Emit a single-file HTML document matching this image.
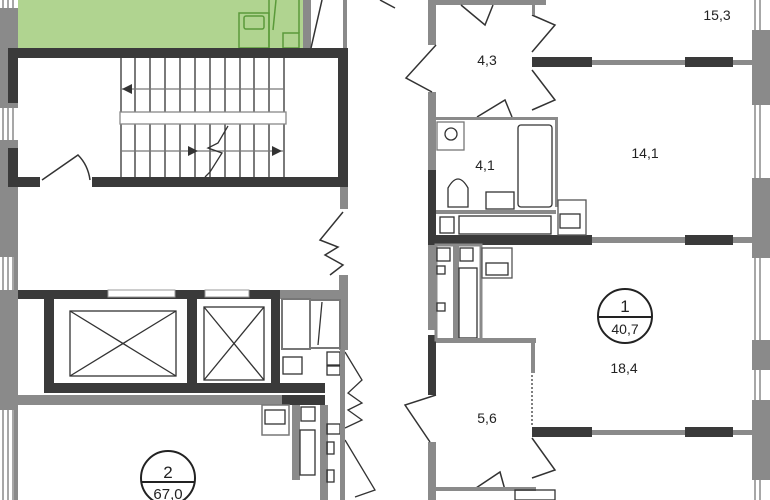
<!DOCTYPE html>
<html><head><meta charset="utf-8"><style>
html,body{margin:0;padding:0;background:#fff;width:770px;height:500px;overflow:hidden}
svg{display:block}
text{font-family:"Liberation Sans",sans-serif;fill:#222}
</style></head><body>
<svg width="770" height="500" viewBox="0 0 770 500" xmlns="http://www.w3.org/2000/svg">
<!-- left exterior wall -->
<rect x="0" y="0" width="18" height="500" fill="#fff"/>
<g stroke="#8a8a8a" stroke-width="1.5">
<line x1="3" y1="0" x2="3" y2="500"/><line x1="8" y1="0" x2="8" y2="500"/><line x1="13" y1="0" x2="13" y2="500"/>
</g>
<rect x="0" y="8" width="18" height="100" fill="#8a8a8a"/>
<rect x="0" y="140" width="18" height="55" fill="#8a8a8a"/>
<rect x="8" y="48" width="10" height="55" fill="#3a3a3a"/>
<rect x="8" y="148" width="10" height="38" fill="#3a3a3a"/>
<rect x="0" y="195" width="18" height="62" fill="#8a8a8a"/>
<rect x="0" y="290" width="18" height="120" fill="#8a8a8a"/>
<rect x="14" y="185" width="4" height="315" fill="#8a8a8a"/>
<!-- green area -->
<rect x="18" y="0" width="285" height="48" fill="#b0d490"/>
<rect x="303" y="0" width="8" height="48" fill="#8a8a8a"/>
<g fill="none" stroke="#5a9a3a" stroke-width="1.5">
<rect x="239" y="13" width="30" height="35"/><rect x="244" y="16" width="20" height="13" rx="2"/>
<line x1="269" y1="0" x2="269" y2="48"/><line x1="276" y1="0" x2="273" y2="30"/>
<rect x="283" y="33" width="16" height="15"/><line x1="299" y1="0" x2="299" y2="33"/>
</g>
<line x1="311" y1="48" x2="322" y2="0" stroke="#333" stroke-width="1.5"/>
<rect x="343" y="0" width="4" height="48" fill="#8a8a8a"/>
<path d="M380 0 L395 8" stroke="#333" stroke-width="1.5"/>
<!-- stair box -->
<g fill="#3a3a3a">
<rect x="8" y="48" width="340" height="10"/>
<rect x="338" y="48" width="10" height="139"/>
<rect x="8" y="177" width="32" height="10"/>
<rect x="92" y="177" width="256" height="10"/>
</g>
<g stroke="#333" stroke-width="1.3">
<line x1="121" y1="58" x2="121" y2="177"/><line x1="135" y1="58" x2="135" y2="177"/><line x1="150" y1="58" x2="150" y2="177"/>
<line x1="165" y1="58" x2="165" y2="177"/><line x1="180" y1="58" x2="180" y2="177"/><line x1="195" y1="58" x2="195" y2="177"/>
<line x1="210" y1="58" x2="210" y2="177"/><line x1="225" y1="58" x2="225" y2="177"/><line x1="240" y1="58" x2="240" y2="177"/>
<line x1="254" y1="58" x2="254" y2="177"/><line x1="269" y1="58" x2="269" y2="177"/><line x1="284" y1="58" x2="284" y2="177"/>
<line x1="121" y1="89" x2="284" y2="89" stroke="#777"/><line x1="121" y1="151" x2="284" y2="151" stroke="#777"/>
</g>
<rect x="120" y="112" width="166" height="12" fill="#fff" stroke="#888" stroke-width="1.3"/>
<polygon points="122,89 132,84 132,94" fill="#333"/>
<polygon points="198,151 188,146 188,156" fill="#333"/>
<polygon points="282,151 272,146 272,156" fill="#333"/>
<path d="M228 126 L218 143 L208 148 L222 153 L210 172 L205 177" fill="none" stroke="#333" stroke-width="1.3"/>
<path d="M42 180 L78 155 Q88 165 90 180" fill="none" stroke="#333" stroke-width="1.5"/>
<rect x="340" y="187" width="8" height="22" fill="#8a8a8a"/>
<path d="M343 212 L320 240 L338 247 L325 255 L343 265 L330 275" fill="none" stroke="#333" stroke-width="1.5"/>
<!-- elevator block -->
<rect x="18" y="290" width="26" height="9" fill="#3a3a3a"/>
<rect x="44" y="290" width="236" height="103" fill="#3a3a3a"/>
<rect x="54" y="299" width="133" height="84" fill="#fff"/>
<rect x="197" y="299" width="74" height="84" fill="#fff"/>
<rect x="108" y="290" width="67" height="7" fill="#fff" stroke="#999" stroke-width="1"/>
<rect x="205" y="290" width="44" height="7" fill="#fff" stroke="#999" stroke-width="1"/>
<rect x="54" y="383" width="271" height="10" fill="#3a3a3a"/>
<g fill="none" stroke="#333" stroke-width="1.3">
<rect x="70" y="311" width="106" height="65"/><line x1="70" y1="311" x2="176" y2="376"/><line x1="176" y1="311" x2="70" y2="376"/>
<rect x="204" y="307" width="60" height="73"/><line x1="204" y1="307" x2="264" y2="380"/><line x1="264" y1="307" x2="204" y2="380"/>
</g>
<rect x="280" y="290" width="60" height="9" fill="#8a8a8a"/>
<rect x="339" y="275" width="9" height="75" fill="#8a8a8a"/>
<g fill="none" stroke="#777" stroke-width="2">
<rect x="282" y="299" width="28" height="50"/><rect x="310" y="300" width="30" height="48"/>
</g>
<line x1="318" y1="345" x2="322" y2="302" stroke="#333" stroke-width="1.3"/>
<rect x="283" y="357" width="19" height="17" fill="none" stroke="#333" stroke-width="1.3"/>
<rect x="18" y="395" width="307" height="10" fill="#8a8a8a"/>
<rect x="282" y="395" width="43" height="10" fill="#3a3a3a"/>
<rect x="320" y="405" width="8" height="95" fill="#8a8a8a"/>
<rect x="292" y="405" width="8" height="75" fill="#8a8a8a"/>
<rect x="262" y="405" width="27" height="30" fill="none" stroke="#777" stroke-width="1.5"/>
<rect x="265" y="410" width="20" height="14" fill="none" stroke="#333" stroke-width="1.3"/>
<g fill="none" stroke="#333" stroke-width="1.3">
<rect x="301" y="407" width="14" height="14"/><rect x="300" y="430" width="15" height="45"/>
<rect x="327" y="352" width="13" height="13"/><rect x="327" y="366" width="13" height="9"/>
<rect x="327" y="424" width="13" height="10"/><rect x="327" y="442" width="7" height="12"/><rect x="327" y="470" width="7" height="12"/>
<path d="M345 352 L362 380 L348 393 L362 403 L348 410 L362 420 L345 428"/>
<path d="M345 440 L375 490 L355 497"/>
</g>
<rect x="340" y="350" width="5" height="150" fill="#8a8a8a"/>
<!-- circle 2 -->
<circle cx="168" cy="478" r="27" fill="#fff" stroke="#222" stroke-width="2"/>
<line x1="141" y1="482" x2="195" y2="482" stroke="#222" stroke-width="2"/>
<text x="168" y="478" font-size="17" text-anchor="middle">2</text>
<text x="168" y="499" font-size="15" text-anchor="middle">67,0</text>
<!-- right apartment -->
<rect x="428" y="0" width="8" height="45" fill="#8a8a8a"/>
<rect x="428" y="92" width="8" height="78" fill="#8a8a8a"/>
<rect x="428" y="170" width="8" height="75" fill="#3a3a3a"/>
<rect x="428" y="245" width="8" height="85" fill="#8a8a8a"/>
<rect x="428" y="335" width="8" height="60" fill="#3a3a3a"/>
<rect x="428" y="442" width="8" height="58" fill="#8a8a8a"/>
<rect x="436" y="0" width="110" height="5" fill="#8a8a8a"/>
<g fill="none" stroke="#333" stroke-width="1.5">
<path d="M436 45 L406 78 L432 92"/><path d="M461 5 L485 25 L493 5"/>
<path d="M532 15 L555 25 L532 52"/><path d="M532 70 L555 100 L532 110"/>
<path d="M477 117 L505 100 L512 117"/>
<path d="M436 395 L405 405 L430 442"/><path d="M532 438 L555 470 L532 478"/>
<path d="M473 490 L500 472 L505 490"/>
</g>
<rect x="532" y="0" width="3" height="15" fill="#8a8a8a"/>
<!-- horizontal walls -->
<rect x="532" y="57" width="60" height="10" fill="#3a3a3a"/><rect x="592" y="60" width="93" height="5" fill="#8a8a8a"/>
<rect x="685" y="57" width="48" height="10" fill="#3a3a3a"/><rect x="733" y="60" width="20" height="5" fill="#8a8a8a"/>
<rect x="428" y="235" width="164" height="10" fill="#3a3a3a"/><rect x="592" y="237" width="93" height="6" fill="#8a8a8a"/>
<rect x="685" y="235" width="48" height="10" fill="#3a3a3a"/><rect x="733" y="237" width="20" height="6" fill="#8a8a8a"/>
<rect x="532" y="427" width="60" height="10" fill="#3a3a3a"/><rect x="592" y="430" width="93" height="5" fill="#8a8a8a"/>
<rect x="685" y="427" width="48" height="10" fill="#3a3a3a"/><rect x="733" y="430" width="20" height="5" fill="#8a8a8a"/>
<!-- right exterior -->
<rect x="752" y="0" width="18" height="500" fill="#fff"/>
<g stroke="#8a8a8a" stroke-width="1.5"><line x1="755" y1="0" x2="755" y2="500"/><line x1="760" y1="0" x2="760" y2="500"/></g>
<rect x="752" y="30" width="18" height="75" fill="#8a8a8a"/>
<rect x="752" y="178" width="18" height="80" fill="#8a8a8a"/>
<rect x="752" y="340" width="18" height="30" fill="#8a8a8a"/>
<rect x="752" y="400" width="18" height="80" fill="#8a8a8a"/>
<!-- bathroom -->
<rect x="436" y="117" width="121" height="3" fill="#8a8a8a"/>
<rect x="555" y="117" width="3" height="90" fill="#8a8a8a"/>
<g fill="none" stroke="#333" stroke-width="1.3">
<rect x="437" y="122" width="27" height="28" stroke="#777"/><circle cx="451" cy="134" r="6"/>
<path d="M448 207 L448 188 Q458 170 468 188 L468 207 Z"/>
<rect x="486" y="192" width="28" height="17"/>
<rect x="518" y="125" width="34" height="82" rx="3"/>
<rect x="558" y="200" width="28" height="35" stroke="#555"/><rect x="560" y="214" width="20" height="14"/>
<rect x="459" y="216" width="92" height="18"/><rect x="440" y="217" width="14" height="16"/>
</g>
<rect x="436" y="210" width="120" height="4" fill="#8a8a8a"/>
<!-- shafts below bath -->
<rect x="436" y="245" width="45" height="95" fill="#fff" stroke="#8a8a8a" stroke-width="3"/>
<rect x="453" y="245" width="6" height="95" fill="#8a8a8a"/>
<g fill="none" stroke="#333" stroke-width="1.3">
<rect x="437" y="248" width="13" height="13"/><rect x="460" y="248" width="13" height="13"/>
<rect x="437" y="266" width="8" height="8"/><rect x="437" y="303" width="8" height="8"/>
<rect x="459" y="268" width="18" height="70"/>
<rect x="482" y="248" width="30" height="30" stroke="#555"/><rect x="486" y="263" width="22" height="12"/>
</g>
<rect x="436" y="338" width="100" height="5" fill="#8a8a8a"/>
<rect x="531" y="338" width="4" height="35" fill="#8a8a8a"/>
<line x1="532" y1="375" x2="532" y2="425" stroke="#555" stroke-width="1.5" stroke-dasharray="2,2"/>
<rect x="436" y="487" width="100" height="4" fill="#8a8a8a"/>
<rect x="515" y="490" width="40" height="10" fill="none" stroke="#333" stroke-width="1.3"/>
<!-- labels -->
<g font-size="14" text-anchor="middle">
<text x="717" y="20">15,3</text><text x="487" y="65">4,3</text><text x="485" y="170">4,1</text>
<text x="645" y="158">14,1</text><text x="624" y="373">18,4</text><text x="487" y="423">5,6</text>
</g>
<circle cx="625" cy="316" r="27" fill="#fff" stroke="#222" stroke-width="2"/>
<line x1="598" y1="317" x2="652" y2="317" stroke="#222" stroke-width="2"/>
<text x="625" y="312" font-size="17" text-anchor="middle">1</text>
<text x="625" y="334" font-size="14" text-anchor="middle">40,7</text>
</svg>
</body></html>
